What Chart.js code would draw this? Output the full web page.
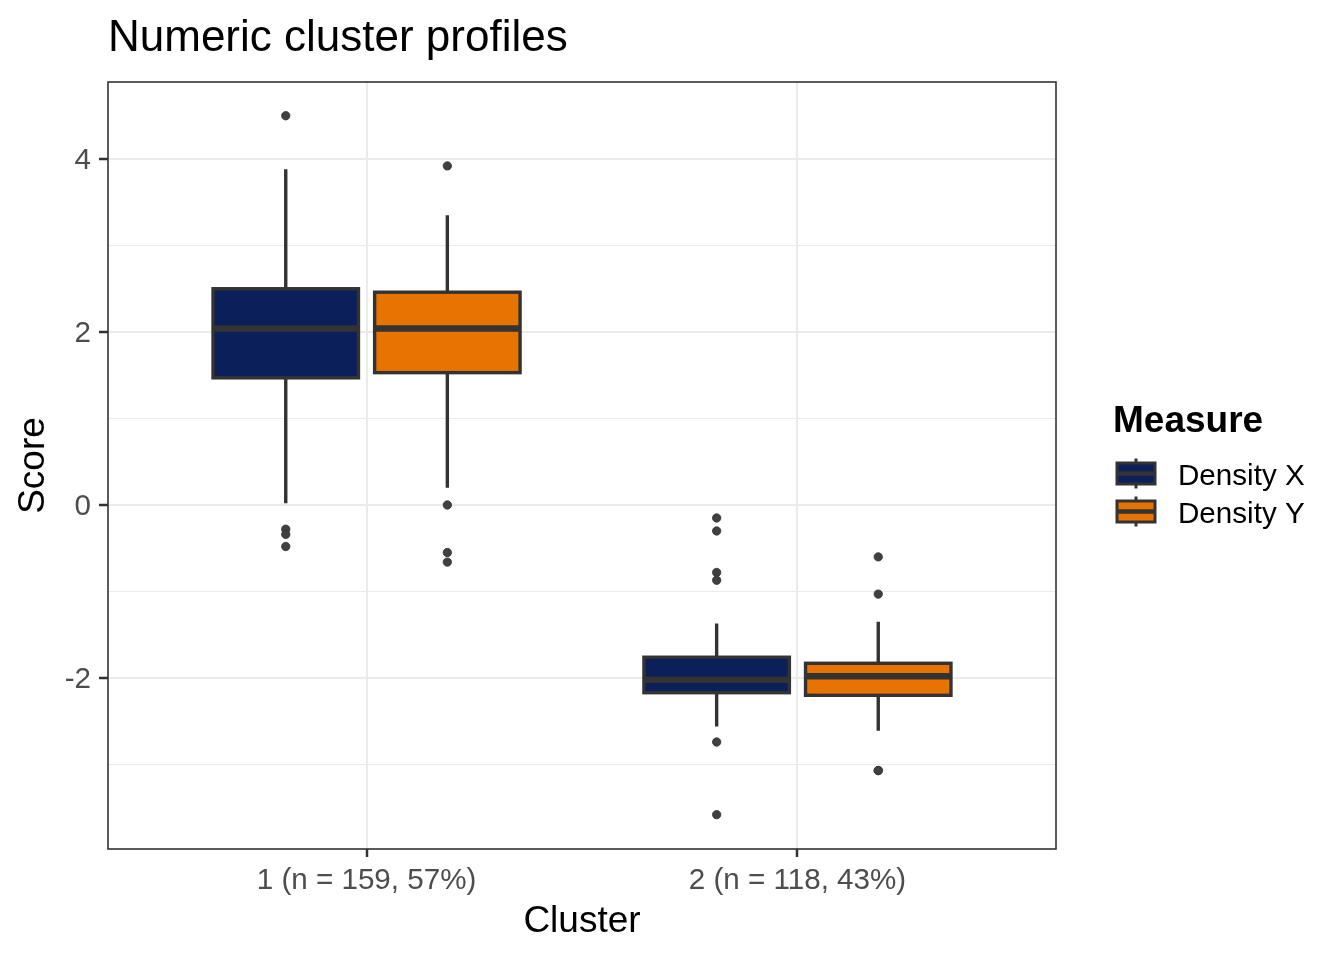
<!DOCTYPE html>
<html>
<head>
<meta charset="utf-8">
<title>Numeric cluster profiles</title>
<script src="https://cdn.jsdelivr.net/npm/chart.js@4.4.1/dist/chart.umd.min.js"></script>
<style>
    body { margin: 0; background: #ffffff; }
    canvas { display: block; }
</style>
</head>
<body>
<canvas id="profileChart" width="1344" height="960"></canvas>
<script>
// Cluster labels (x axis)
const clusters = ['1 (n = 159, 57%)', '2 (n = 118, 43%)'];
const measures = ['Density X', 'Density Y'];

// Density X box stats, one value per cluster
const xWhiskerLow = [0.02, -2.56];
const xQ1 = [1.47, -2.17];
const xMedian = [2.04, -2.02];
const xQ3 = [2.50, -1.76];
const xWhiskerHigh = [3.88, -1.37];
const xOutliers = [
    [4.50, -0.28, -0.34, -0.48],
    [-0.15, -0.30, -0.78, -0.87, -2.74, -3.58]
];

// Density Y box stats
const yWhiskerLow = [0.20, -2.61];
const yQ1 = [1.53, -2.20];
const yMedian = [2.04, -1.98];
const yQ3 = [2.46, -1.83];
const yWhiskerHigh = [3.35, -1.35];
const yOutliers = [
    [3.92, 0.00, -0.55, -0.66],
    [-0.60, -1.03, -3.07, -3.07]
];

// Y axis ticks (labels only on the even ones)
const yTicks = [-3, -2, -1, 0, 1, 2, 3, 4];
const yLabelTicks = [-2, 0, 2, 4];

const fills = ['#0b1f5b', '#e77400'];
const ink = '#333333';
const DODGE = 0.1875;
const HALF_BOX = DODGE * 0.9;

const boxStats = [
    { low: xWhiskerLow, q1: xQ1, med: xMedian, q3: xQ3, high: xWhiskerHigh },
    { low: yWhiskerLow, q1: yQ1, med: yMedian, q3: yQ3, high: yWhiskerHigh }
];

function outlierPoints(outliers, offset) {
    return outliers.flatMap((vals, i) => vals.map(v => ({ x: i + 1 + offset, y: v })));
}

Chart.defaults.font.family = '"Liberation Sans", Arial, sans-serif';

// Boxes + whiskers, drawn from the stats through the chart scales
const boxPlugin = {
    id: 'boxes',
    beforeDatasetsDraw(chart) {
        const { ctx, scales: { x, y } } = chart;
        ctx.save();
        boxStats.forEach((s, j) => {
            const off = j === 0 ? -DODGE : DODGE;
            clusters.forEach((c, i) => {
                const cx = x.getPixelForValue(i + 1 + off);
                const left = x.getPixelForValue(i + 1 + off - HALF_BOX);
                const right = x.getPixelForValue(i + 1 + off + HALF_BOX);
                const top = y.getPixelForValue(s.q3[i]);
                const bottom = y.getPixelForValue(s.q1[i]);

                ctx.strokeStyle = ink;
                ctx.lineWidth = 3.4;
                ctx.beginPath();
                ctx.moveTo(cx, y.getPixelForValue(s.high[i]));
                ctx.lineTo(cx, top);
                ctx.moveTo(cx, bottom);
                ctx.lineTo(cx, y.getPixelForValue(s.low[i]));
                ctx.stroke();

                ctx.fillStyle = fills[j];
                ctx.fillRect(left, top, right - left, bottom - top);
                ctx.strokeRect(left, top, right - left, bottom - top);

                const my = y.getPixelForValue(s.med[i]);
                ctx.lineWidth = 6.5;
                ctx.beginPath();
                ctx.moveTo(left, my);
                ctx.lineTo(right, my);
                ctx.stroke();
            });
        });
        ctx.restore();
    },
    afterDraw(chart) {
        const { ctx, chartArea: a } = chart;
        ctx.save();
        // panel border
        ctx.strokeStyle = ink;
        ctx.lineWidth = 1.6;
        ctx.strokeRect(a.left, a.top, a.right - a.left, a.bottom - a.top);

        // legend
        ctx.fillStyle = '#000000';
        ctx.font = 'bold 37px "Liberation Sans", Arial, sans-serif';
        ctx.textBaseline = 'alphabetic';
        ctx.fillText('Measure', 1113, 432);

        measures.forEach((m, j) => {
            const cy = 473.5 + j * 38;
            const kx = 1117, kw = 38, kh = 21;
            ctx.strokeStyle = ink;
            ctx.lineWidth = 3;
            ctx.beginPath();
            ctx.moveTo(kx + kw / 2, cy - 15);
            ctx.lineTo(kx + kw / 2, cy + 15);
            ctx.stroke();
            ctx.fillStyle = fills[j];
            ctx.fillRect(kx, cy - kh / 2, kw, kh);
            ctx.strokeRect(kx, cy - kh / 2, kw, kh);
            ctx.lineWidth = 4.5;
            ctx.beginPath();
            ctx.moveTo(kx, cy);
            ctx.lineTo(kx + kw, cy);
            ctx.stroke();

            ctx.fillStyle = '#000000';
            ctx.font = '29.6px "Liberation Sans", Arial, sans-serif';
            ctx.fillText(m, 1178, cy + 11);
        });
        ctx.restore();
    }
};

const ctx = document.getElementById('profileChart');
new Chart(ctx, {
    type: 'scatter',
    data: {
        datasets: [
            {
                label: measures[0],
                data: outlierPoints(xOutliers, -DODGE),
                backgroundColor: '#404040',
                borderColor: ink,
                pointRadius: 4.2,
                borderWidth: 0.8
            },
            {
                label: measures[1],
                data: outlierPoints(yOutliers, DODGE),
                backgroundColor: '#404040',
                borderColor: ink,
                pointRadius: 4.2,
                borderWidth: 0.8
            }
        ]
    },
    options: {
        responsive: false,
        animation: false,
        devicePixelRatio: 1,
        layout: { padding: { top: 0, right: 288, bottom: 0, left: 0 } },
        plugins: {
            legend: { display: false },
            tooltip: { enabled: false },
            title: {
                display: true,
                text: 'Numeric cluster profiles',
                align: 'start',
                fullSize: false,
                color: '#000000',
                font: { size: 44, weight: 'normal' },
                padding: { top: 12.4, bottom: 16.8 }
            }
        },
        scales: {
            x: {
                type: 'linear',
                min: 0.4,
                max: 2.6,
                afterBuildTicks: scale => {
                    scale.ticks = clusters.map((c, i) => ({ value: i + 1 }));
                },
                afterFit: scale => { scale.height = 111; },
                ticks: {
                    callback: value => clusters[value - 1],
                    color: '#4d4d4d',
                    font: { size: 29.6 },
                    padding: 6,
                    maxRotation: 0,
                    autoSkip: false
                },
                grid: {
                    color: '#ebebeb',
                    lineWidth: 2,
                    tickLength: 8,
                    tickColor: ink,
                    tickWidth: 2.5
                },
                border: { display: false },
                title: {
                    display: true,
                    text: 'Cluster',
                    color: '#000000',
                    font: { size: 37 },
                    padding: { top: 0, bottom: 15.8 }
                }
            },
            y: {
                min: -3.977,
                max: 4.89,
                afterBuildTicks: scale => {
                    scale.ticks = yTicks.map(v => ({ value: v }));
                },
                afterFit: scale => { scale.width = 108; },
                ticks: {
                    callback: value => yLabelTicks.includes(value) ? String(value) : '',
                    color: '#4d4d4d',
                    font: { size: 29.6 },
                    padding: 8,
                    labelOffset: 1.5
                },
                grid: {
                    color: '#ebebeb',
                    lineWidth: c => yLabelTicks.includes(c.tick && c.tick.value) ? 2 : 1.1,
                    tickLength: 9,
                    tickColor: c => yLabelTicks.includes(c.tick && c.tick.value) ? ink : 'rgba(0,0,0,0)',
                    tickWidth: 2.5
                },
                border: { display: false },
                title: {
                    display: true,
                    text: 'Score',
                    color: '#000000',
                    font: { size: 37 },
                    padding: { top: 11.8, bottom: 0 }
                }
            }
        }
    },
    plugins: [boxPlugin]
});
</script>
</body>
</html>
